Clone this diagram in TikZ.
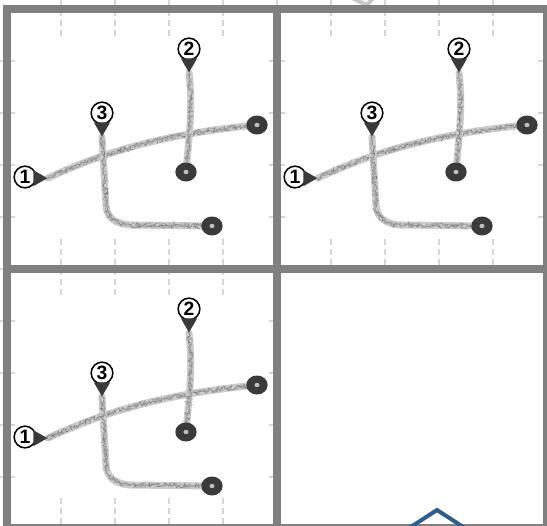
\documentclass[tikz,border=0pt]{standalone}
\usepackage{fontspec}
\newfontfamily\markfont{Liberation Sans}
\usepackage{tikz}
\usetikzlibrary{shapes, shapes.geometric, arrows.meta, positioning, decorations.pathmorphing, backgrounds}

\definecolor{framegray}{HTML}{808080}
\definecolor{gridgray}{HTML}{D6D6D6}
\definecolor{dotgray}{HTML}{3A3A3A}
\definecolor{chevronblue}{HTML}{2F5D8C}

\begin{document}
\begin{tikzpicture}[
			x=0.03cm, y=-0.03cm,
			frame/.style={
				draw=framegray,
				line width=0.24cm
			},
			gridline/.style={
				draw=gridgray,
				line width=1.7pt,
				dash pattern=on 5pt off 3.5pt
			},
			sheet/.style={
				fill=white
			},
			crayon/.style={
				draw=black!20,
				line width=6pt,
				line cap=round,
				postaction={draw=black!50, line width=0.6pt, decorate,
					decoration={random steps, segment length=1.1pt, amplitude=2pt}},
				postaction={draw=black!35, line width=0.5pt, decorate,
					decoration={random steps, segment length=0.9pt, amplitude=2.3pt}}
			},
			marker/.style={
				circle,
				draw=black,
				fill=white,
				line width=1.3pt,
				minimum size=0.65cm,
				inner sep=0pt,
				font=\markfont\bfseries\fontsize{16.5}{16.5}\selectfont
			},
			tip/.style={
				isosceles triangle,
				isosceles triangle apex angle=60,
				fill=dotgray,
				inner sep=3.2pt
			},
			dot/.style={
				ellipse,
				fill=dotgray,
				minimum width=0.64cm,
				minimum height=0.57cm,
				inner sep=0pt,
				path picture={\fill[black!25] (path picture bounding box.center) ellipse (2.2pt and 1.8pt);}
			}
			]
			
			\useasboundingbox (0,0) rectangle (547,526);
			\clip (0,0) rectangle (547,526);
			\pgfmathsetseed{11}
			
			% Background grid
			\begin{scope}[on background layer]
				\foreach \gx in {61,115,...,493}
					\draw[gridline] (\gx,0) -- (\gx,526);
				\foreach \gy in {61,113,...,477}
					\draw[gridline] (0,\gy) -- (547,\gy);
				% Empty panel
				\fill[white] (277,268) rectangle (547,526);
			\end{scope}
			
			% Top chevron
			\draw[black!22, line width=3.4pt] (335,-10) -- (367,5) -- (380,-10);
			
			% Panels: same sketch three times
			\foreach \p/\dx/\dy in {a/0/0, b/270/0, c/0/260} {
				\begin{scope}[shift={(\dx,\dy)}]
					
					% Marker 1: start of the long stroke
					\node[marker] (m1\p) at (25,177) {1};
					\node[tip, right=-3pt of m1\p, yshift=-1pt] (t1\p) {};
					
					% Marker 2: start of the short stroke
					\node[marker] (m2\p) at (189,49) {2};
					\node[tip, shape border rotate=-90, below=-2pt of m2\p] (t2\p) {};
					
					% Marker 3: start of the hook stroke
					\node[marker] (m3\p) at (102,113) {3};
					\node[tip, shape border rotate=-90, below=-2pt of m3\p] (t3\p) {};
					
					% End dots
					\node[dot] (d1\p) at (186,172) {};
					\node[dot] (d2\p) at (257,125) {};
					\node[dot] (d3\p) at (212,226) {};
					
					% Sheet and strokes
					\begin{scope}[on background layer]
						\fill[sheet] (15,37) rectangle (267,238);
						\draw[crayon] (t1\p.apex) .. controls +(43,-20) and +(-107,10) .. (d2\p.center);
						\draw[crayon] (t2\p.apex) .. controls +(4,35) and +(3,-35) .. (d1\p.center);
						\draw[crayon] (t3\p.apex) -- ++(4,68) .. controls +(1,14) and +(-12,-2) .. ++(22,20) -- (d3\p.center);
					\end{scope}
					
				\end{scope}
			}
			
			% Frame
			\draw[frame] (7,9) rectangle (547,528);
			\draw[frame] (277,9) -- (277,528);
			\draw[frame] (7,268.5) -- (547,268.5);
			
			% Bottom chevron
			\draw[chevronblue, line width=3.4pt] (403,532) -- (437,510) -- (471,532);
			
		\end{tikzpicture}
\end{document}
